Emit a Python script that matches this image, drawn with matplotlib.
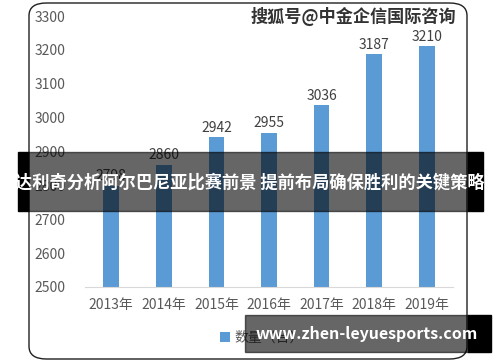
import matplotlib.pyplot as plt
from matplotlib.patches import FancyBboxPatch, Rectangle

plt.rcParams['font.family'] = ['Noto Sans CJK SC', 'DejaVu Sans']

years = ["2013年", "2014年", "2015年", "2016年", "2017年", "2018年", "2019年"]
counts = [2798, 2860, 2942, 2955, 3036, 3187, 3210]
yticks = [2500, 2600, 2700, 2800, 2900, 3000, 3100, 3200, 3300]
series_name = "数量（台）"
title = "达利奇分析阿尔巴尼亚比赛前景 提前布局确保胜利的关键策略"
watermark = "搜狐号@中金企信国际咨询"
site = "www.zhen-leyuesports.com"

W, H = 500, 362
fig = plt.figure(figsize=(W / 100, H / 100), dpi=100)


def px(x0, y0, x1, y1):
    # pixel box (top-left origin) -> figure fraction rect
    return [x0 / W, 1 - y1 / H, (x1 - x0) / W, (y1 - y0) / H]


ax = fig.add_axes(px(85, 16, 453, 287))
bars = ax.bar(range(len(years)), counts, width=0.3, color="#5B9BD5", label=series_name)
ax.set_xlim(-0.5, len(years) - 0.5)
ax.set_ylim(2500, 3300)
ax.set_yticks(yticks)
ax.set_xticks(range(len(years)))
ax.set_xticklabels(years)
ax.tick_params(length=0, labelsize=10, colors="#595959", pad=8)
ax.tick_params(axis="y", pad=14)
for s in ["top", "right", "left"]:
    ax.spines[s].set_visible(False)
ax.spines["bottom"].set_color("#D9D9D9")
for b, v in zip(bars, counts):
    ax.text(b.get_x() + b.get_width() / 2, v + 8, str(v), ha="center", va="bottom",
            fontsize=10, color="#404040")

fig.legend(loc="center", bbox_to_anchor=(262 / W, 1 - 338 / H), frameon=False,
           fontsize=10, handlelength=0.7, handleheight=0.7, handletextpad=0.3,
           labelcolor="#595959")

# rounded frame
frame = FancyBboxPatch((29 / W, 3 / H), 438 / W, 356 / H,
                       boxstyle="round,pad=0,rounding_size=0.035",
                       transform=fig.transFigure, fill=False, ec="#202020", lw=1.0)
fig.patches.append(frame)

fig.text(353 / W, 1 - 16 / H, watermark, ha="center", va="center", fontsize=12.3,
         fontweight="bold", color="#333333")

# middle banner: opaque black sides, translucent black over the chart
fig.patches.append(Rectangle((18 / W, 1 - 211 / H), 10 / W, 59 / H,
                             transform=fig.transFigure, color="black", zorder=5))
fig.patches.append(Rectangle((468 / W, 1 - 211 / H), 15 / W, 59 / H,
                             transform=fig.transFigure, color="black", zorder=5))
fig.patches.append(Rectangle((28 / W, 1 - 211 / H), 440 / W, 59 / H,
                             transform=fig.transFigure, color="black", alpha=0.6, zorder=6))
fig.text(250 / W, 1 - 183 / H, title, ha="center", va="center", fontsize=12.4,
         fontweight="bold", color="white", zorder=7)

# bottom banner
fig.patches.append(Rectangle((468 / W, 1 - 352 / H), 23 / W, 37 / H,
                             transform=fig.transFigure, color="black", zorder=5))
fig.patches.append(Rectangle((245 / W, 1 - 352 / H), 223 / W, 37 / H,
                             transform=fig.transFigure, color="black", alpha=0.6, zorder=6))
fig.text(367 / W, 1 - 334 / H, site, ha="center", va="center", fontsize=11.5,
         fontweight="bold", color="white", zorder=7)

fig.savefig("out.png", dpi=100)
